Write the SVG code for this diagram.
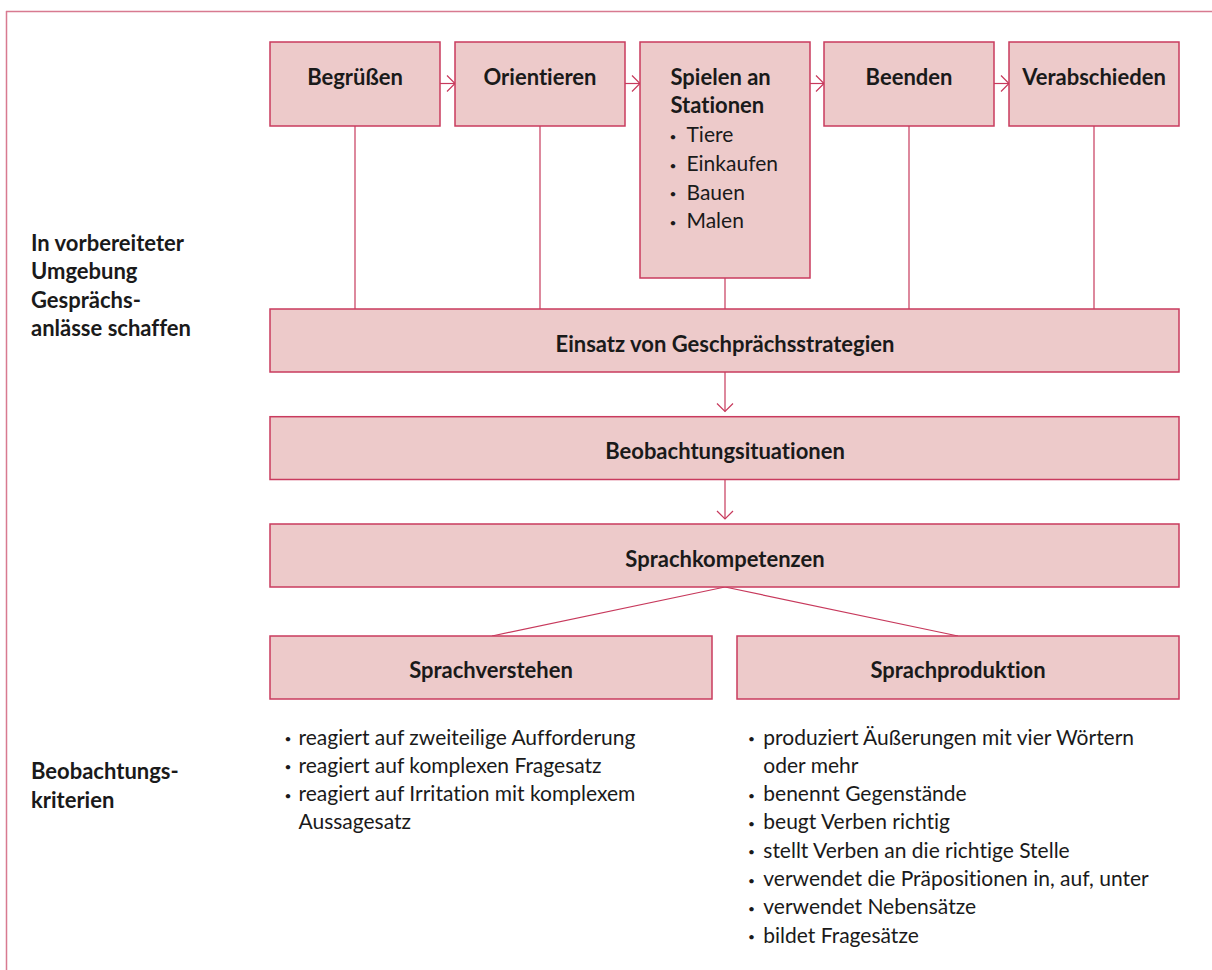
<svg xmlns="http://www.w3.org/2000/svg" width="1212" height="970" viewBox="0 0 1212 970">
<style>
.box{fill:#EDCACA;stroke:#C93B5E;stroke-width:1.5}
.ln{stroke:#C7395C;stroke-width:1.2;fill:none}
.frame{stroke:#D87A90;stroke-width:1.5;fill:none}
text{font-family:Lato,"Open Sans","Liberation Sans",sans-serif;fill:#1a1a1a;font-size:21px;font-variant-ligatures:none;font-feature-settings:"liga" 0}
.b{font-weight:bold;font-size:22px}
.c{text-anchor:middle}
.d{font-size:12px;text-anchor:middle}
</style>
<defs>
<marker id="ah" markerUnits="userSpaceOnUse" viewBox="0 0 10 18" refX="9" refY="9" markerWidth="10" markerHeight="18" orient="auto">
<path d="M1,1 L9,9 L1,17" fill="none" stroke="#C7395C" stroke-width="1.2"/>
</marker>
</defs>
<g id="frame">
<line class="frame" x1="6" y1="11.5" x2="1212" y2="11.5"/>
<line class="frame" x1="6.5" y1="11" x2="6.5" y2="970"/>
</g>
<g id="connectors">
<line class="ln" x1="440" y1="83.5" x2="455" y2="83.5" marker-end="url(#ah)"/>
<line class="ln" x1="625" y1="83.5" x2="640" y2="83.5" marker-end="url(#ah)"/>
<line class="ln" x1="810" y1="83.5" x2="824" y2="83.5" marker-end="url(#ah)"/>
<line class="ln" x1="994" y1="83.5" x2="1009" y2="83.5" marker-end="url(#ah)"/>
<line class="ln" x1="355" y1="126" x2="355" y2="309"/>
<line class="ln" x1="540" y1="126" x2="540" y2="309"/>
<line class="ln" x1="725" y1="278" x2="725" y2="309"/>
<line class="ln" x1="909" y1="126" x2="909" y2="309"/>
<line class="ln" x1="1094" y1="126" x2="1094" y2="309"/>
<line class="ln" x1="725" y1="372" x2="725" y2="411.5" marker-end="url(#ah)"/>
<line class="ln" x1="725" y1="479.5" x2="725" y2="519" marker-end="url(#ah)"/>
<line class="ln" x1="725" y1="587" x2="492" y2="636"/>
<line class="ln" x1="725" y1="587" x2="958" y2="636"/>
</g>
<g id="begruessen">
<rect class="box" x="270" y="42" width="170" height="84"/>
<text class="b c" x="355" y="84.5">Begrüßen</text>
</g>
<g id="orientieren">
<rect class="box" x="455" y="42" width="170" height="84"/>
<text class="b c" x="540" y="84.5">Orientieren</text>
</g>
<g id="spielen">
<rect class="box" x="640" y="42" width="170" height="236"/>
<text class="b" x="670.5" y="84.5">Spielen an</text>
<text class="b" x="670.5" y="113.3">Stationen</text>
<text class="d" x="673" y="141">•</text><text x="686.5" y="142.3">Tiere</text>
<text class="d" x="673" y="169.7">•</text><text x="686.5" y="171">Einkaufen</text>
<text class="d" x="673" y="198.4">•</text><text x="686.5" y="199.7">Bauen</text>
<text class="d" x="673" y="227">•</text><text x="686.5" y="228.3">Malen</text>
</g>
<g id="beenden">
<rect class="box" x="824" y="42" width="170" height="84"/>
<text class="b c" x="909" y="84.5">Beenden</text>
</g>
<g id="verabschieden">
<rect class="box" x="1009" y="42" width="170" height="84"/>
<text class="b c" x="1094" y="84.5">Verabschieden</text>
</g>
<g id="label-umgebung">
<text class="b" x="31" y="250.7">In vorbereiteter</text>
<text class="b" x="31" y="279.2">Umgebung</text>
<text class="b" x="31" y="307.7">Gesprächs-</text>
<text class="b" x="31" y="336.2">anlässe schaffen</text>
</g>
<g id="einsatz">
<rect class="box" x="270" y="309" width="909" height="63"/>
<text class="b c" x="725" y="351.7">Einsatz von Geschprächsstrategien</text>
</g>
<g id="beobachtungssituationen">
<rect class="box" x="270" y="416.7" width="909" height="62.8"/>
<text class="b c" x="725" y="459.3">Beobachtungsituationen</text>
</g>
<g id="sprachkompetenzen">
<rect class="box" x="270" y="524" width="909" height="63"/>
<text class="b c" x="725" y="567">Sprachkompetenzen</text>
</g>
<g id="sprachverstehen">
<rect class="box" x="270" y="636" width="442" height="63"/>
<text class="b c" x="491" y="677.5">Sprachverstehen</text>
</g>
<g id="sprachproduktion">
<rect class="box" x="737" y="636" width="442" height="63"/>
<text class="b c" x="958" y="677.5">Sprachproduktion</text>
</g>
<g id="label-kriterien">
<text class="b" x="31" y="779">Beobachtungs-</text>
<text class="b" x="31" y="808">kriterien</text>
</g>
<g id="kriterien-verstehen">
<text class="d" x="288" y="743">•</text><text x="298.5" y="744.5">reagiert auf zweiteilige Aufforderung</text>
<text class="d" x="288" y="771.3">•</text><text x="298.5" y="772.8">reagiert auf komplexen Fragesatz</text>
<text class="d" x="288" y="799.6">•</text><text x="298.5" y="801.1">reagiert auf Irritation mit komplexem</text>
<text x="298.5" y="829.4">Aussagesatz</text>
</g>
<g id="kriterien-produktion">
<text class="d" x="751.5" y="743">•</text><text x="763.3" y="744.5">produziert Äußerungen mit vier Wörtern</text>
<text x="763.3" y="772.8">oder mehr</text>
<text class="d" x="751.5" y="799.6">•</text><text x="763.3" y="801.1">benennt Gegenstände</text>
<text class="d" x="751.5" y="827.9">•</text><text x="763.3" y="829.4">beugt Verben richtig</text>
<text class="d" x="751.5" y="856.2">•</text><text x="763.3" y="857.7">stellt Verben an die richtige Stelle</text>
<text class="d" x="751.5" y="884.5">•</text><text x="763.3" y="886">verwendet die Präpositionen in, auf, unter</text>
<text class="d" x="751.5" y="912.8">•</text><text x="763.3" y="914.3">verwendet Nebensätze</text>
<text class="d" x="751.5" y="941.1">•</text><text x="763.3" y="942.6">bildet Fragesätze</text>
</g>
</svg>
